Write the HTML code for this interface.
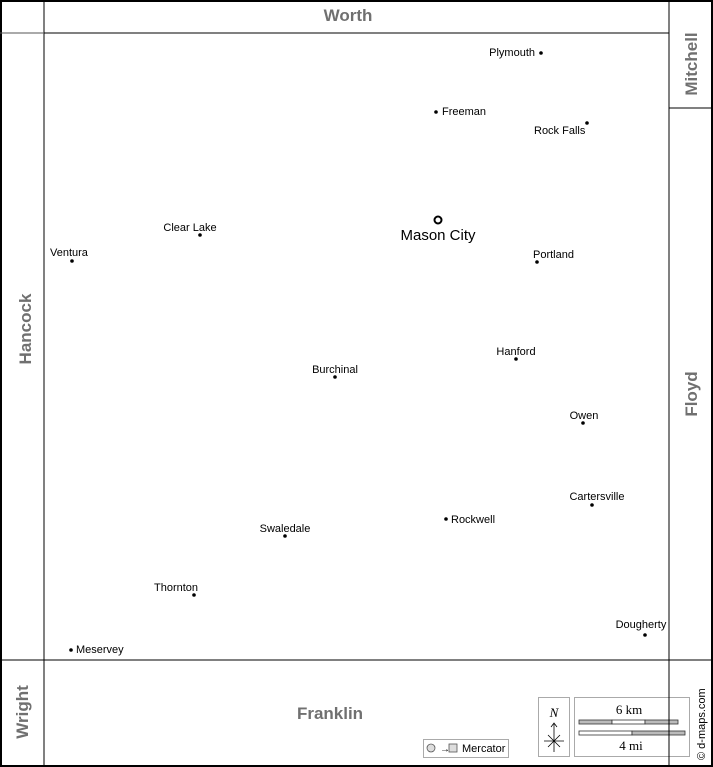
<!DOCTYPE html>
<html><head><style>
html,body{margin:0;padding:0;background:#fff;}
svg{display:block;}
text{font-family:"Liberation Sans",Arial,sans-serif;}
.t{font-size:11px;fill:#000;}
.r{font-size:17px;font-weight:bold;fill:#707070;}
</style></head><body>
<svg width="713" height="767" viewBox="0 0 713 767" xmlns="http://www.w3.org/2000/svg">
<rect x="0" y="0" width="713" height="767" fill="#fff"/>
<g stroke="#000" fill="none">
<rect x="1" y="1" width="711" height="765" stroke-width="2"/>
<line x1="44" y1="0" x2="44" y2="767" stroke-width="1"/>
<line x1="44" y1="33" x2="669" y2="33"/>
<line x1="0" y1="33" x2="44" y2="33" stroke="#555"/>
<line x1="669" y1="0" x2="669" y2="767"/>
<line x1="0" y1="660" x2="713" y2="660"/>
<line x1="669" y1="108" x2="713" y2="108"/>
</g>
<text class="r" x="348" y="21" text-anchor="middle">Worth</text>
<text class="r" x="330" y="719" text-anchor="middle">Franklin</text>
<text class="r" transform="translate(31,329) rotate(-90)" text-anchor="middle">Hancock</text>
<text class="r" transform="translate(28,712) rotate(-90)" text-anchor="middle">Wright</text>
<text class="r" transform="translate(697,64) rotate(-90)" text-anchor="middle">Mitchell</text>
<text class="r" transform="translate(697,394) rotate(-90)" text-anchor="middle">Floyd</text>
<g fill="#000">
<circle cx="541" cy="53" r="1.8"/><text class="t" x="535" y="56" text-anchor="end">Plymouth</text>
<circle cx="436" cy="112" r="1.8"/><text class="t" x="442" y="115">Freeman</text>
<circle cx="587" cy="123" r="1.8"/><text class="t" x="534" y="134">Rock Falls</text>
<circle cx="200" cy="235" r="1.8"/><text class="t" x="190" y="231" text-anchor="middle">Clear Lake</text>
<circle cx="72" cy="261" r="1.8"/><text class="t" x="50" y="256">Ventura</text>
<circle cx="537" cy="262" r="1.8"/><text class="t" x="533" y="258">Portland</text>
<circle cx="516" cy="359" r="1.8"/><text class="t" x="516" y="355" text-anchor="middle">Hanford</text>
<circle cx="335" cy="377" r="1.8"/><text class="t" x="335" y="373" text-anchor="middle">Burchinal</text>
<circle cx="583" cy="423" r="1.8"/><text class="t" x="584" y="419" text-anchor="middle">Owen</text>
<circle cx="592" cy="505" r="1.8"/><text class="t" x="597" y="500" text-anchor="middle">Cartersville</text>
<circle cx="446" cy="519" r="1.8"/><text class="t" x="451" y="523">Rockwell</text>
<circle cx="285" cy="536" r="1.8"/><text class="t" x="285" y="532" text-anchor="middle">Swaledale</text>
<circle cx="194" cy="595" r="1.8"/><text class="t" x="176" y="591" text-anchor="middle">Thornton</text>
<circle cx="645" cy="635" r="1.8"/><text class="t" x="641" y="628" text-anchor="middle">Dougherty</text>
<circle cx="71" cy="650" r="1.8"/><text class="t" x="76" y="653">Meservey</text>
</g>
<circle cx="438" cy="220" r="3.5" fill="#fff" stroke="#000" stroke-width="2"/>
<text x="438" y="240" text-anchor="middle" style="font-size:15px">Mason City</text>
<rect x="423.5" y="739.5" width="85" height="18" fill="#fff" stroke="#aaa"/>
<circle cx="431" cy="748" r="4" fill="#ddd" stroke="#555" stroke-width="0.8"/>
<text x="440" y="752" style="font-size:10px">→</text>
<rect x="449" y="744" width="8" height="8" fill="#ddd" stroke="#555" stroke-width="0.8"/>
<text x="462" y="752" style="font-size:11px">Mercator</text>
<rect x="538.5" y="697.5" width="31" height="59" fill="#fff" stroke="#aaa"/>
<text x="554" y="717" text-anchor="middle" style="font-family:'Liberation Serif',serif;font-style:italic;font-size:13px">N</text>
<g stroke="#000" stroke-width="0.8" fill="none">
<line x1="554" y1="724" x2="554" y2="752"/><path d="M551,727 L554,723 L557,727"/>
<line x1="544" y1="741" x2="564" y2="741"/>
<line x1="548" y1="735" x2="560" y2="747"/><line x1="560" y1="735" x2="548" y2="747"/>
</g>
<rect x="574.5" y="697.5" width="115" height="59" fill="#fff" stroke="#aaa"/>
<text x="629" y="714" text-anchor="middle" style="font-family:'Liberation Serif',serif;font-size:13px">6 km</text>
<g stroke="#333" stroke-width="0.8">
<rect x="579" y="720" width="33" height="4" fill="#bbb"/>
<rect x="612" y="720" width="33" height="4" fill="#fff"/>
<rect x="645" y="720" width="33" height="4" fill="#bbb"/>
<rect x="579" y="731" width="53" height="4" fill="#fff"/>
<rect x="632" y="731" width="53" height="4" fill="#bbb"/>
</g>
<text x="631" y="750" text-anchor="middle" style="font-family:'Liberation Serif',serif;font-size:13px">4 mi</text>
<line x1="669" y1="690" x2="669" y2="767" stroke="#000"/>
<text transform="translate(705,760) rotate(-90)" style="font-size:11px">© d-maps.com</text>
</svg>
</body></html>
